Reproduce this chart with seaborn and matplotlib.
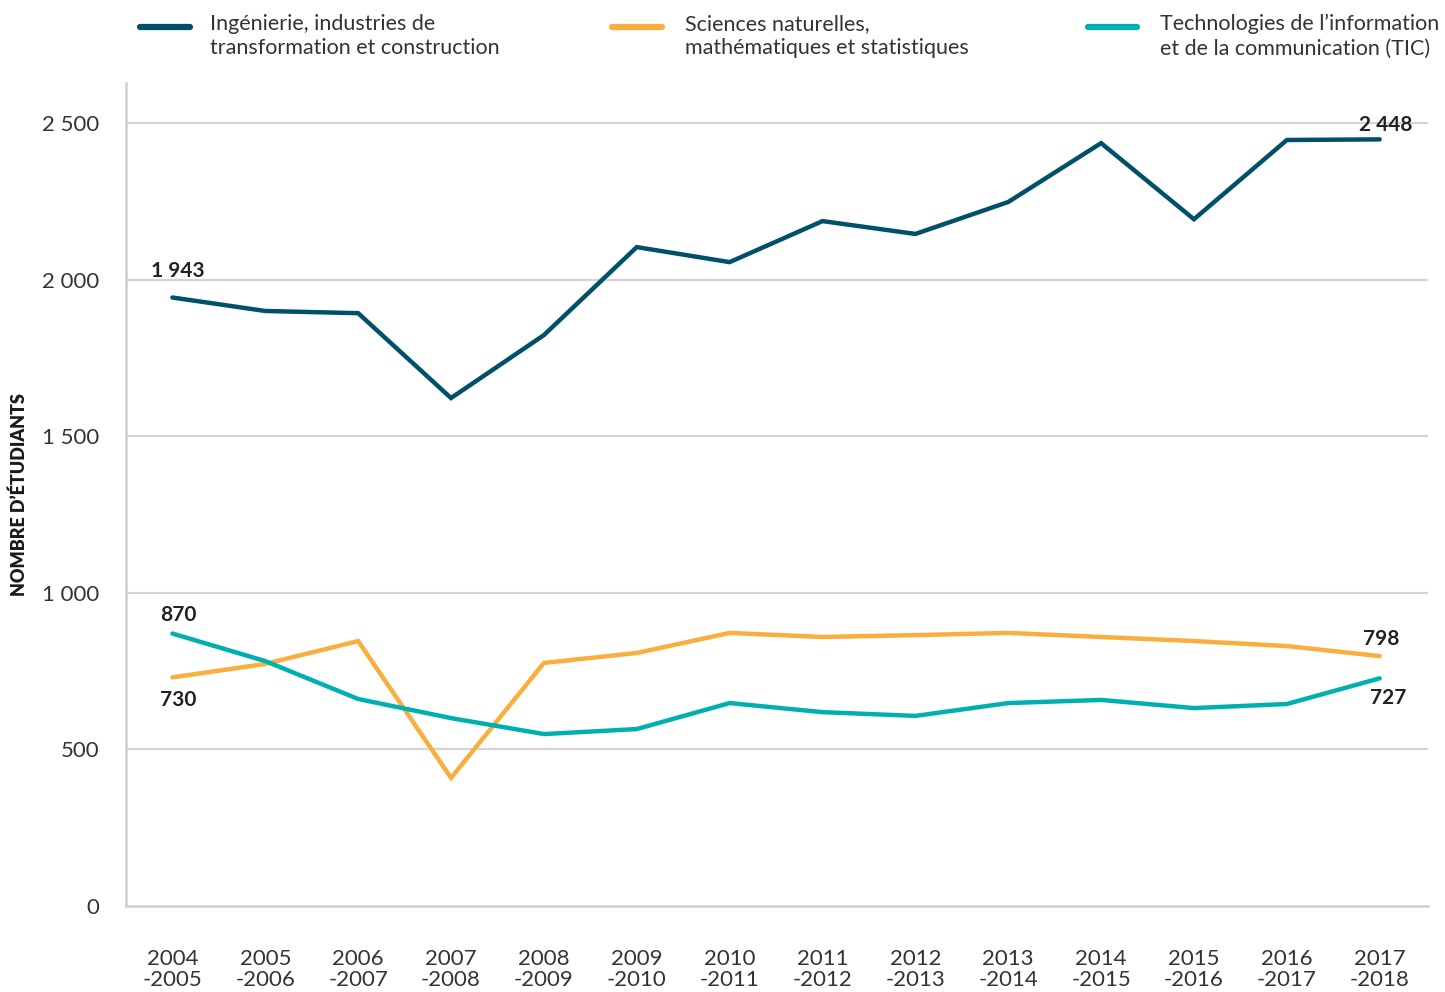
import matplotlib
matplotlib.use("Agg")
import matplotlib.pyplot as plt
import seaborn as sns
import pandas as pd
import numpy as np

years = ["2004\n-2005", "2005\n-2006", "2006\n-2007", "2007\n-2008", "2008\n-2009",
         "2009\n-2010", "2010\n-2011", "2011\n-2012", "2012\n-2013", "2013\n-2014",
         "2014\n-2015", "2015\n-2016", "2016\n-2017", "2017\n-2018"]
series_names = ["Ingénierie, industries de\ntransformation et construction",
                "Sciences naturelles,\nmathématiques et statistiques",
                "Technologies de l’information\net de la communication (TIC)"]
ingenierie = [1943, 1900, 1893, 1622, 1823, 2104, 2056, 2187, 2146, 2248, 2436, 2193, 2446, 2448]
sciences = [730, 773, 846, 409, 776, 808, 872, 859, 865, 872, 859, 846, 830, 798]
tic = [870, 782, 661, 600, 549, 565, 648, 619, 607, 648, 658, 632, 645, 727]
colors = ["#004F6B", "#F9AE3D", "#00AFB0"]
yticks = [0, 500, 1000, 1500, 2000, 2500]
ytick_labels = ["0", "500", "1 000", "1 500", "2 000", "2 500"]

sns.set_theme(style="white")
plt.rcParams['font.family'] = ['Lato', 'DejaVu Sans']

rows = []
for name, vals in zip(series_names, [ingenierie, sciences, tic]):
    for i, v in enumerate(vals):
        rows.append({"idx": i, "value": v, "serie": name})
df = pd.DataFrame(rows)

W, H = 1445, 992
fig = plt.figure(figsize=(W / 100, H / 100), dpi=100)
ax = fig.add_axes([126 / W, 1 - 906 / H, (1428 - 126) / W, (906 - 83) / H])

for y in yticks[1:]:
    ax.axhline(y, color="#d4d4d4", lw=1.6, zorder=0)

sns.lineplot(data=df, x="idx", y="value", hue="serie", palette=colors,
             hue_order=series_names, linewidth=3.2, ax=ax, sort=False,
             legend=False, zorder=3)
for line in ax.get_lines():
    line.set_solid_capstyle("round")
    line.set_solid_joinstyle("miter")

ax.set_xlim(-0.5, 13.52)
ax.set_ylim(0, 2628)
ax.set_xticks(range(len(years)))
ax.set_xticklabels(years, fontsize=16, color="#333333", linespacing=1.05)
ax.set_yticks(yticks)
ax.set_yticklabels(ytick_labels, fontsize=16, color="#333333")
ax.tick_params(axis="x", direction="in", length=14, width=1.6, color="#cfcfcf", pad=31)
ax.tick_params(axis="y", length=0, pad=19)
ax.set_xlabel("")
ax.set_ylabel("NOMBRE D’ÉTUDIANTS", fontsize=13, fontweight="heavy", color="#1a1a1a")
ax.yaxis.set_label_coords(-0.075, 0.5)

for side in ["top", "right"]:
    ax.spines[side].set_visible(False)
for side in ["left", "bottom"]:
    ax.spines[side].set_color("#cfcfcf")
    ax.spines[side].set_linewidth(1.8)

bold = dict(fontsize=15, fontweight="bold", color="#222222")
ax.annotate("1 943", (0, ingenierie[0]), xytext=(4, 12), textcoords="offset points", ha="center", va="bottom", **bold)
ax.annotate("2 448", (13, ingenierie[-1]), xytext=(4, 3), textcoords="offset points", ha="center", va="bottom", **bold)
ax.annotate("870", (0, tic[0]), xytext=(4, 6), textcoords="offset points", ha="center", va="bottom", **bold)
ax.annotate("730", (0, sciences[0]), xytext=(4, -9), textcoords="offset points", ha="center", va="top", **bold)
ax.annotate("798", (13, sciences[-1]), xytext=(1, 5), textcoords="offset points", ha="center", va="bottom", **bold)
ax.annotate("727", (13, tic[-1]), xytext=(6, -7), textcoords="offset points", ha="center", va="top", **bold)

# legend (three entries laid out across the top)
leg_x = [(140, 190, 210), (612, 662, 685), (1088, 1137, 1160)]
for (x0, x1, xt), c, name in zip(leg_x, colors, series_names):
    fig.add_artist(plt.Line2D([x0 / W, x1 / W], [1 - 27 / H, 1 - 27 / H], color=c, lw=4.5,
                              solid_capstyle="round", transform=fig.transFigure))
    fig.text(xt / W, 1 - 14 / H, name, fontsize=15.5, color="#333333", ha="left", va="top",
             linespacing=1.25)

fig.savefig("out.png", dpi=100)
